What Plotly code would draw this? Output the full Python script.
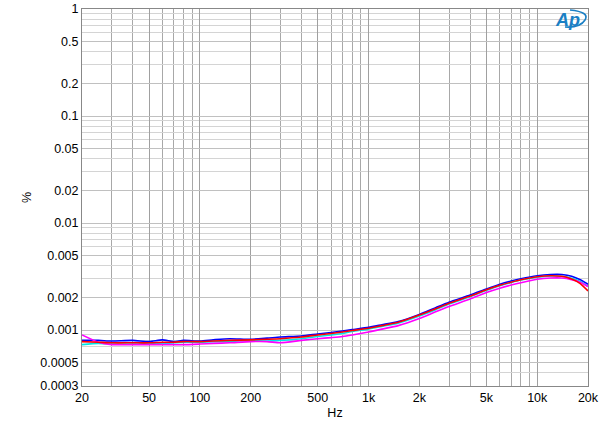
import plotly.graph_objects as go

freq = [20, 25, 30, 40, 50, 60, 70, 80, 100, 120, 150, 200, 250, 300, 400, 500, 600, 700, 800,
        1000, 1200, 1500, 2000, 2500, 3000, 4000, 5000, 6000, 7000, 8000, 10000, 12000, 14000,
        16000, 18000, 20000]

blue = [0.00080, 0.00080, 0.00079, 0.00080, 0.00078, 0.00081, 0.00078, 0.00080, 0.00079, 0.00081,
        0.00083, 0.00082, 0.00084, 0.00086, 0.00088, 0.00092, 0.00095, 0.00098, 0.00101,
        0.00106, 0.00112, 0.00120, 0.00140, 0.00162, 0.00182, 0.00212, 0.00242, 0.00268,
        0.00287, 0.00302, 0.00322, 0.00330, 0.00330, 0.00318, 0.00295, 0.00268]
red = [0.00078, 0.00077, 0.00076, 0.00076, 0.00076, 0.00077, 0.00077, 0.00078, 0.00078, 0.00079,
       0.00080, 0.00081, 0.00082, 0.00083, 0.00086, 0.00090, 0.00093, 0.00096, 0.00099,
       0.00104, 0.00110, 0.00118, 0.00138, 0.00158, 0.00178, 0.00208, 0.00238, 0.00262,
       0.00280, 0.00295, 0.00315, 0.00322, 0.00318, 0.00300, 0.00272, 0.00232]
cyan = [0.00073, 0.00075, 0.00074, 0.00074, 0.00075, 0.00075, 0.00076, 0.00077, 0.00077, 0.00078,
        0.00078, 0.00080, 0.00079, 0.00080, 0.00083, 0.00087, 0.00090, 0.00093, 0.00097,
        0.00102, 0.00108, 0.00116, 0.00135, 0.00155, 0.00175, 0.00205, 0.00235, 0.00260,
        0.00278, 0.00293, 0.00312, 0.00320, 0.00318, 0.00305, 0.00285, 0.00255]
magenta = [0.00090, 0.00077, 0.00073, 0.00073, 0.00073, 0.00073, 0.00073, 0.00073, 0.00074, 0.00075,
           0.00076, 0.00078, 0.00078, 0.00076, 0.00080, 0.00083, 0.00085, 0.00087, 0.00090,
           0.00096, 0.00102, 0.00110, 0.00128, 0.00148, 0.00166, 0.00195, 0.00224, 0.00246,
           0.00263, 0.00277, 0.00298, 0.00306, 0.00306, 0.00296, 0.00280, 0.00255]

series = [("blue", blue, "#0000ff"), ("cyan", cyan, "#00e5e5"),
          ("magenta", magenta, "#ff00ff"), ("red", red, "#ff0000")]

x_ticks = [20, 50, 100, 200, 500, 1000, 2000, 5000, 10000, 20000]
x_labels = ["20", "50", "100", "200", "500", "1k", "2k", "5k", "10k", "20k"]
y_ticks = [1, 0.5, 0.2, 0.1, 0.05, 0.02, 0.01, 0.005, 0.002, 0.001, 0.0005, 0.0003]
y_labels = ["1", "0.5", "0.2", "0.1", "0.05", "0.02", "0.01", "0.005", "0.002", "0.001", "0.0005", "0.0003"]

x_minor = [m * 10 ** e for e in range(1, 5) for m in range(1, 10) if 20 <= m * 10 ** e <= 20000]
y_minor = [m * 10 ** e for e in range(-4, 1) for m in range(1, 10) if 0.0003 <= m * 10 ** e <= 1]

fig = go.Figure()
for name, vals, col in series:
    fig.add_trace(go.Scatter(x=freq, y=vals, mode="lines", name=name,
                             line=dict(color=col, width=1.6, shape="spline", smoothing=0.6)))

font = dict(family="Liberation Sans, Arial, sans-serif", size=12.5, color="#000000")
fig.update_layout(
    width=600, height=428, showlegend=False,
    paper_bgcolor="white", plot_bgcolor="white",
    margin=dict(l=82, r=12, t=9, b=42),
    font=font,
    xaxis=dict(type="log", range=[1.30103, 4.30103], tickvals=x_ticks, ticktext=x_labels,
               automargin=False,
               showgrid=True, gridcolor="#a0a0a0", gridwidth=1,
               minor=dict(tickvals=x_minor, showgrid=True, gridcolor="#a8a8a8", gridwidth=1),
               showline=True, linecolor="#888888", mirror=True, ticks="",
               title=dict(text="Hz", font=font, standoff=4), zeroline=False),
    yaxis=dict(type="log", range=[-3.52288, 0], tickvals=y_ticks, ticktext=y_labels,
               automargin=False,
               showgrid=True, gridcolor="#c0c0c0", gridwidth=1,
               minor=dict(tickvals=y_minor, showgrid=True, gridcolor="#d4d4d4", gridwidth=1),
               showline=True, linecolor="#888888", mirror=True, ticks="",
               title=dict(text="%", font=font, standoff=5), zeroline=False),
)

logo_col = "#1a7fc4"
fig.add_annotation(xref="paper", yref="paper", x=0.9585, y=0.971, text="<b><i>Ap</i></b>",
                   showarrow=False, xanchor="center", yanchor="middle",
                   font=dict(family="Liberation Sans, Arial", size=18, color=logo_col))
fig.add_shape(type="path", xref="paper", yref="paper",
              path="M 0.9644 0.9973 Q 1.004 0.992 0.9941 0.9708 Q 0.9842 0.9496 0.9545 0.9523",
              line=dict(color=logo_col, width=1.6))

fig.write_html("out.html", config={"displayModeBar": False},
               post_script="document.body.style.margin='0';document.body.style.overflow='hidden';")
